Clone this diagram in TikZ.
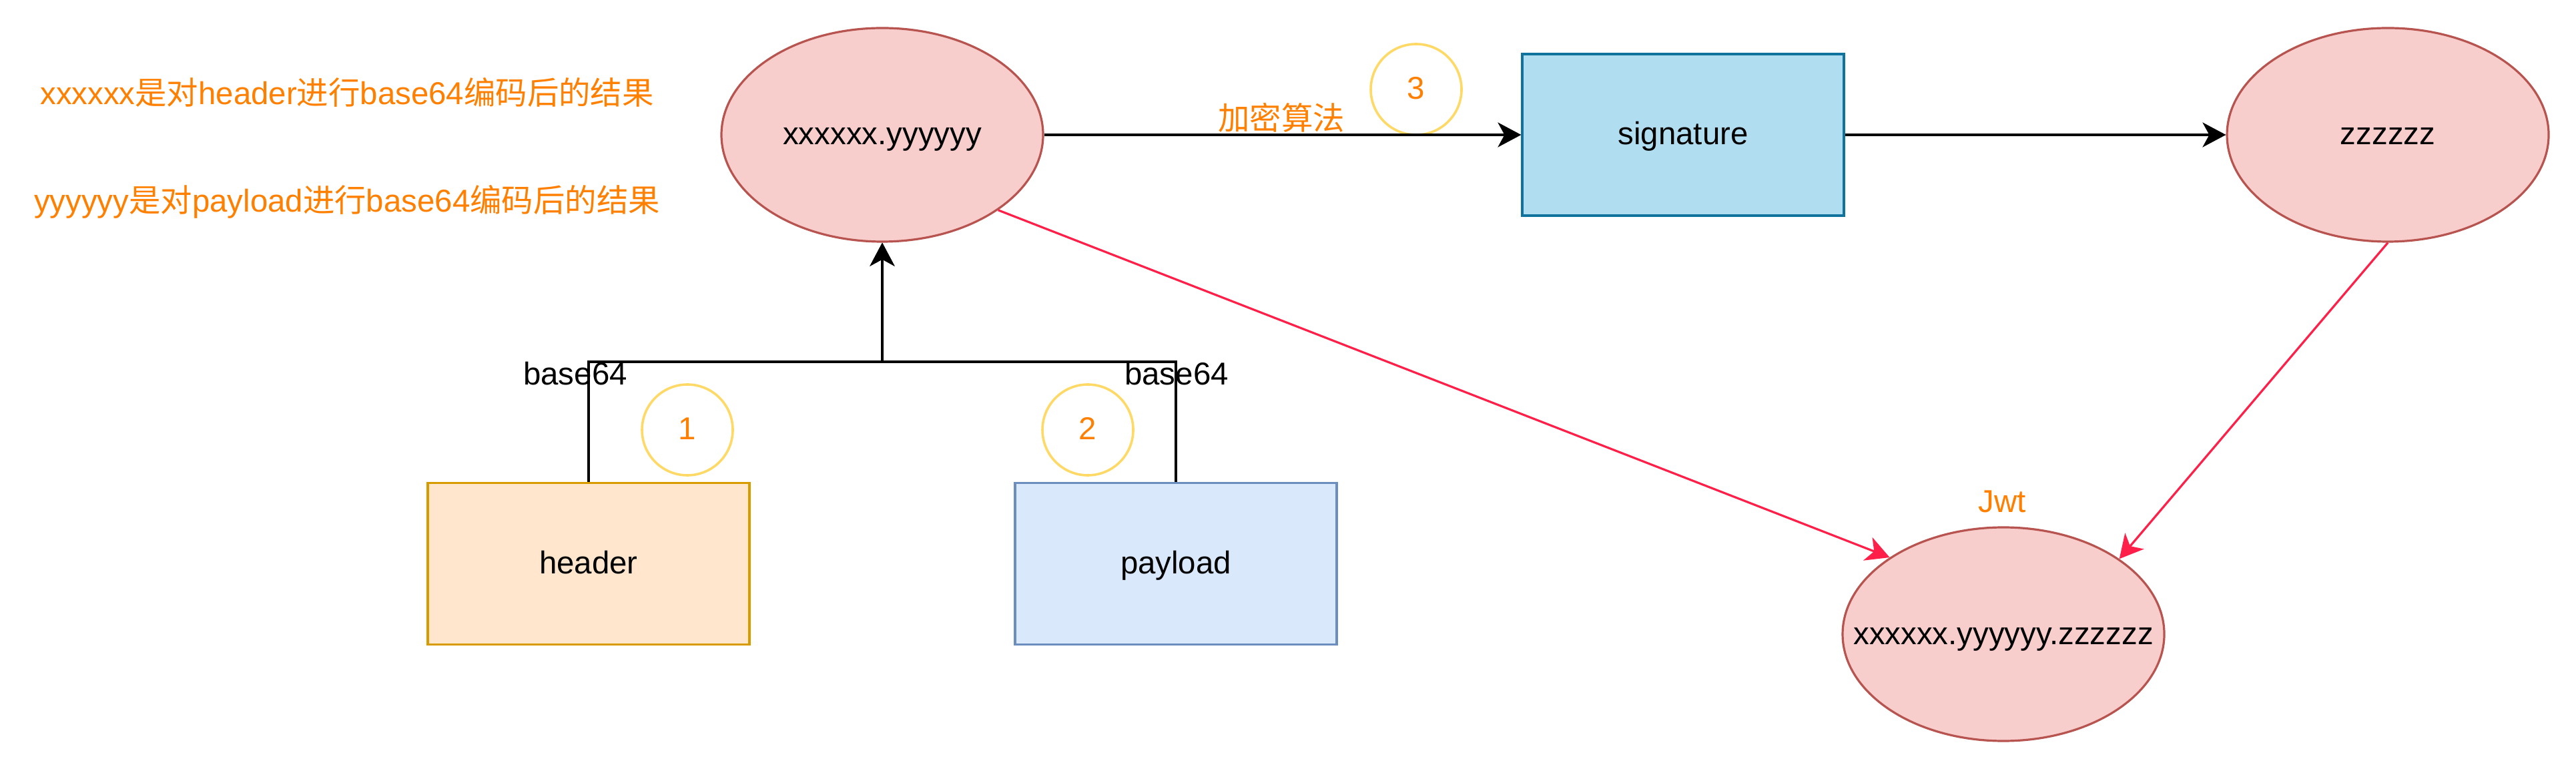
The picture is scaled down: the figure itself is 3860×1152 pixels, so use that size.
\documentclass[tikz,border=0pt]{standalone}
\usepackage{fontspec}
\setmainfont{Liberation Sans}
\newfontfamily\cjk{Noto Sans CJK SC}
\usetikzlibrary{shapes.geometric,arrows.meta}
\definecolor{ellfill}{HTML}{F8CECC}
\definecolor{elldraw}{HTML}{B85450}
\definecolor{sigfill}{HTML}{B1DDF0}
\definecolor{sigdraw}{HTML}{10739E}
\definecolor{hdrfill}{HTML}{FFE6CC}
\definecolor{hdrdraw}{HTML}{D79B00}
\definecolor{payfill}{HTML}{DAE8FC}
\definecolor{paydraw}{HTML}{6C8EBF}
\definecolor{ylw}{HTML}{FFD966}
\definecolor{org}{HTML}{FF8000}
\definecolor{redl}{HTML}{FF1F48}
\begin{document}
\begin{tikzpicture}[x=0.25pt,y=-0.25pt,
  font=\fontsize{11.85pt}{14pt}\selectfont,
  txt/.style={inner sep=0pt, text height=10pt, text depth=2.5pt},
  ell/.style={ellipse, draw=elldraw, fill=ellfill, line width=0.8pt, minimum width=120.5pt, minimum height=80pt, inner sep=0pt, text height=10pt, text depth=2.5pt},
  box/.style={rectangle, line width=0.8pt, minimum width=120.5pt, minimum height=60.5pt, inner sep=0pt, text height=10pt, text depth=2.5pt},
  numc/.style={circle, draw=ylw, fill=white, line width=0.9pt, minimum size=34pt, inner sep=0pt, text=org, text height=10pt, text depth=2.5pt},
  plain/.style={inner sep=0pt, anchor=base},
  arr/.style={draw=black, line width=0.85pt, -{Stealth[length=8.75pt, width=9.25pt, inset=2.5pt]}},
  rarr/.style={draw=redl, line width=0.8pt, -{Stealth[length=8.75pt, width=9.25pt, inset=2.5pt]}}
]
\fill[white] (0,0) rectangle (3860,1152);
\useasboundingbox (0,0) rectangle (3860,1152);

% explanatory texts
\node[plain, text=org] (t1) at (520,157) {xxxxxx{\cjk 是对}header{\cjk 进行}base64{\cjk 编码后的结果}};
\node[plain, text=org] (t2) at (520,318) {yyyyyy{\cjk 是对}payload{\cjk 进行}base64{\cjk 编码后的结果}};

% nodes
\node[ell] (A) at (1322,202) {\makebox[0pt]{xxxxxx.yyyyyy}};
\node[box, draw=sigdraw, fill=sigfill] (sig) at (2522,202) {signature};
\node[ell] (Z) at (3578,202) {\makebox[0pt]{zzzzzz}};
\node[ell] (J) at (3002,950) {\makebox[0pt]{xxxxxx.yyyyyy.zzzzzz}};
\node[plain, text=org] (jwt) at (3000,768) {Jwt};
\node[box, draw=hdrdraw, fill=hdrfill] (hdr) at (882,844.5) {header};
\node[box, draw=paydraw, fill=payfill] (pay) at (1762,844.5) {payload};

% numbered circles
\node[numc] (c1) at (1030,644) {1};
\node[numc] (c2) at (1630,644) {2};
\node[numc] (c3) at (2122,134) {3};

% connectors
\coordinate (j) at (1322,542);
\draw[arr] (hdr.north) |- (j) -- (A.south);
\draw[arr] (pay.north) |- (j) -- (A.south);
\node[plain] (b1) at (862,577) {base64};
\node[plain] (b2) at (1763,577) {base64};

\draw[arr] (A.east) -- (sig.west);
\node[plain, text=org] (alg) at (1920,195) {\cjk 加密算法};
\draw[arr] (sig.east) -- (Z.west);

\draw[rarr] (A.-33.3) -- (J.146.5);
\draw[rarr] (Z.south) -- (J.33.8);
\end{tikzpicture}
\end{document}
